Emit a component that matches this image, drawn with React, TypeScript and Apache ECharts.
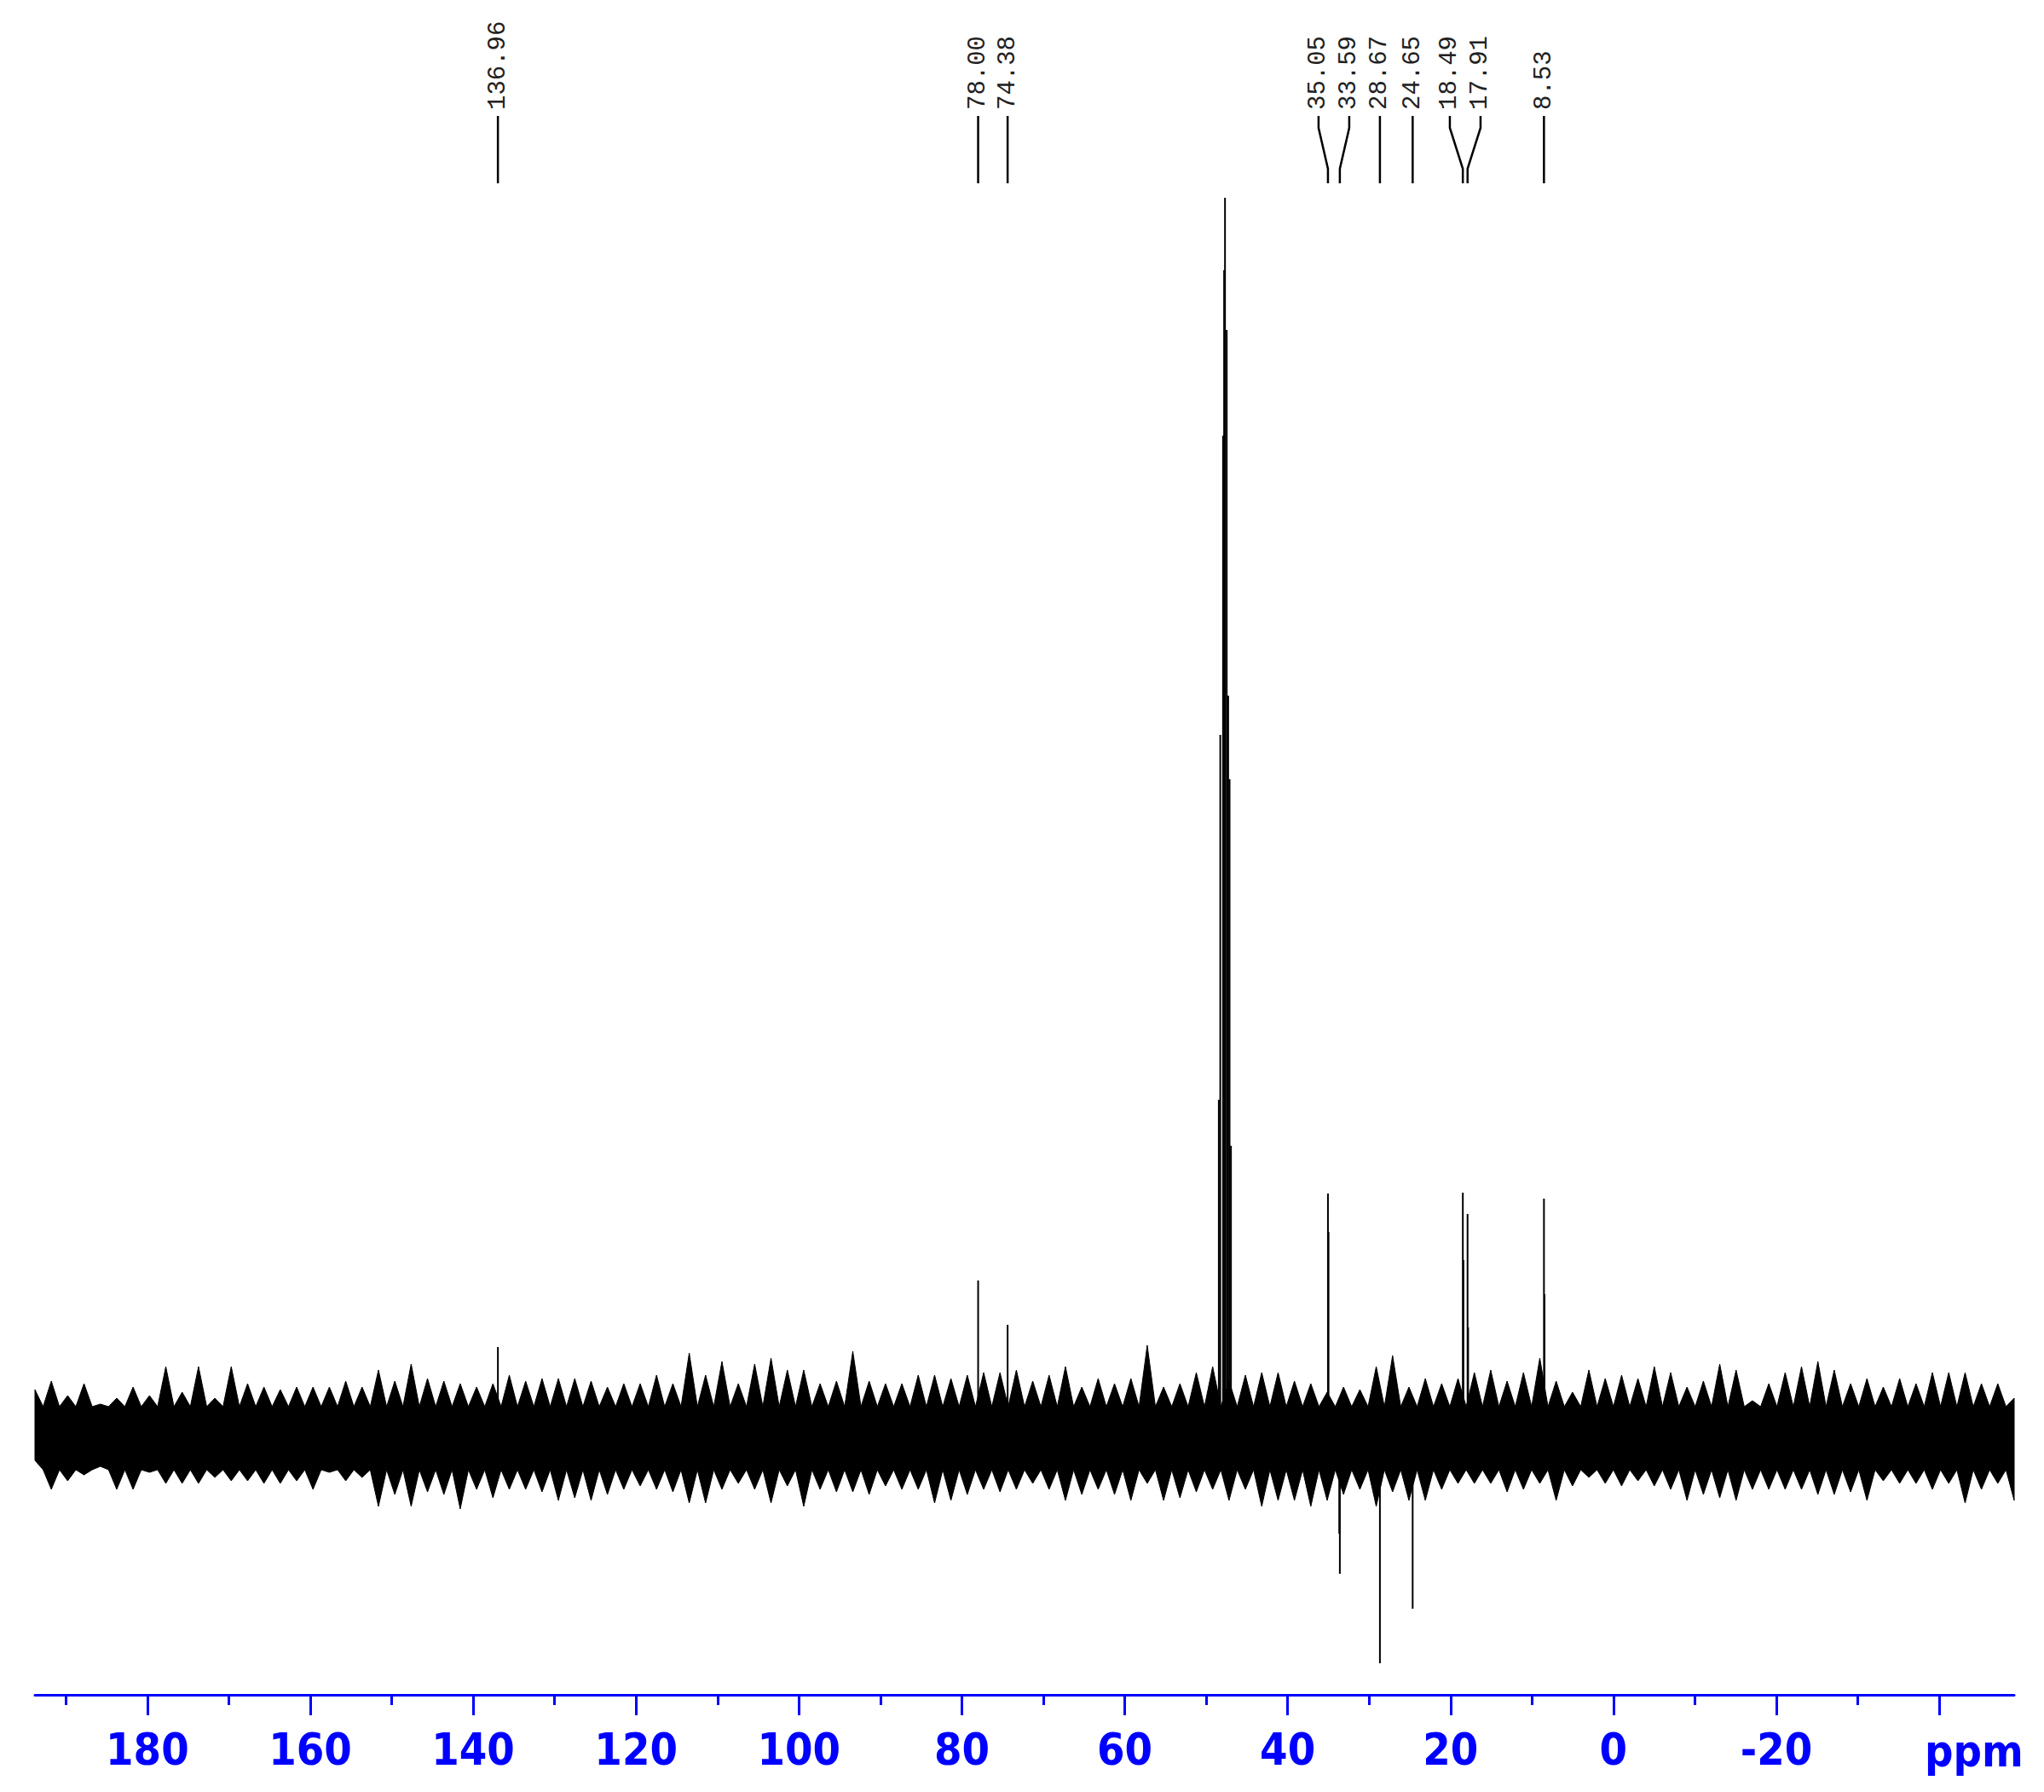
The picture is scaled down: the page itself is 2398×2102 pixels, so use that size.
import React, { useEffect, useRef } from "react";
import * as echarts from "echarts";

// ---- axis ----
const AXIS_MIN = -49.2;
const AXIS_MAX = 193.8;
const MAJOR_TICKS = [180, 160, 140, 120, 100, 80, 60, 40, 20, 0, -20, -40];
const MINOR_TICKS = [190, 170, 150, 130, 110, 90, 70, 50, 30, 10, -10, -30];
const TICK_LABELS = [180, 160, 140, 120, 100, 80, 60, 40, 20, 0, -20];
const AXIS_UNIT = "ppm";

// ---- labelled peaks (ppm, intensity) ----
const PEAK_LABELS = ["136.96", "78.00", "74.38", "35.05", "33.59", "28.67", "24.65", "18.49", "17.91", "8.53"];
const PEAK_PPM = [136.96, 78.0, 74.38, 35.05, 33.59, 28.67, 24.65, 18.49, 17.91, 8.53];
const PEAK_HEIGHT = [106, 184, 132, 286, -160, -265, -201, 287, 262, 280];

// second data point of the resolved peaks
const SHOULDER_PPM = [34.98, 33.66, 18.42, 17.84, 8.46];
const SHOULDER_HEIGHT = [241, -113, 208, 129, 168];

// solvent multiplet
const SOLVENT_PPM = [47.69, 47.8, 47.48, 47.93, 47.3, 48.27, 47.13, 48.45, 46.96];
const SOLVENT_HEIGHT = [1454, 1369, 1299, 1175, 870, 824, 772, 396, 342];

// ---- baseline noise envelope, sampled evenly from NOISE_START to NOISE_END ----
const NOISE_START = 193.8;
const NOISE_END = -49.2;
const NOISE_CORE_TOP = 36;
const NOISE_CORE_BOTTOM = -38;
const NOISE_TOP = [
  56, 66, 49, 63, 39, 46, 59, 49, 83, 53, 83, 46, 83, 63, 59, 56, 59, 59, 59, 66, 59, 79, 66, 86,
  69, 66, 63, 59, 63, 73, 66, 69, 69, 69, 66, 59, 63, 63, 73, 63, 99, 73, 89, 63, 86, 93, 79, 79, 63, 66, 101, 66, 63, 63, 73, 73, 69,
  73, 76, 76, 79, 66, 73, 83, 59, 69, 63, 69, 108, 59, 63, 76, 83, 66, 73, 76, 76, 66, 63, 53, 59, 56, 83, 96, 59, 69, 63, 69, 76,
  79, 66, 76, 93, 66, 53, 79, 69, 73, 69, 83, 76, 59, 66, 86, 79, 43, 63, 76, 83, 89, 79, 63, 69, 59, 69, 63, 76, 76, 76, 63, 63, 46,
];
const NOISE_BOTTOM = [
  -27, -61, -51, -44, -34, -61, -61, -41, -54, -54, -54, -47, -51, -51, -54, -54, -51, -61, -41, -51, -47, -81, -67, -81,
  -64, -67, -84, -61, -71, -61, -61, -64, -74, -71, -74, -67, -61, -57, -61, -64, -77, -77, -61, -54, -61, -77, -57, -81, -61, -64, -64, -67, -57, -61, -61, -77, -74,
  -67, -61, -64, -61, -54, -61, -74, -67, -61, -67, -74, -54, -74, -71, -64, -61, -74, -61, -81, -74, -74, -81, -74, -67, -61, -81, -64, -74, -74, -61, -54, -54,
  -54, -64, -61, -54, -74, -57, -47, -54, -57, -51, -57, -61, -74, -67, -71, -74, -61, -61, -61, -61, -67, -67, -64, -74, -51, -54, -54, -61, -54, -77, -61, -54, -74,
];

const Y_MIN = -302;
const Y_MAX = 1500;

const BLUE = "#0000ff";
const AXIS_FONT = "'Liberation Sans Narrow', 'DejaVu Sans Condensed', 'Liberation Sans', Arial, sans-serif";
const PEAK_FONT = "'Liberation Mono', 'DejaVu Sans Mono', monospace";

export default function App() {
  const ref = useRef<HTMLDivElement>(null);

  useEffect(() => {
    document.body.style.margin = "0";
    if (!ref.current) return;
    const chart = echarts.init(ref.current, undefined, { renderer: "svg" });

    const peakData: number[][] = [];
    PEAK_PPM.forEach((p, i) => peakData.push([p, PEAK_HEIGHT[i]]));
    SHOULDER_PPM.forEach((p, i) => peakData.push([p, SHOULDER_HEIGHT[i]]));
    SOLVENT_PPM.forEach((p, i) => peakData.push([p, SOLVENT_HEIGHT[i]]));

    const option: any = {
      animation: false,
      backgroundColor: "#ffffff",
      grid: { left: 41, right: 35, top: 186, bottom: 114 },
      xAxis: [
        {
          type: "value",
          min: AXIS_MIN,
          max: AXIS_MAX,
          inverse: true,
          position: "bottom",
          axisLine: { show: true, onZero: false, lineStyle: { color: BLUE, width: 3 } },
          axisTick: { show: true, length: 24, customValues: MAJOR_TICKS, lineStyle: { color: BLUE, width: 3 } },
          axisLabel: {
            show: true,
            customValues: TICK_LABELS,
            formatter: (v: number) => String(v),
            color: BLUE,
            fontSize: 52,
            fontWeight: "bold",
            fontFamily: AXIS_FONT,
            margin: 38,
          },
          splitLine: { show: false },
        },
        {
          type: "value",
          min: AXIS_MIN,
          max: AXIS_MAX,
          inverse: true,
          position: "bottom",
          axisLine: { show: false, onZero: false },
          axisTick: { show: true, length: 12, customValues: MINOR_TICKS, lineStyle: { color: BLUE, width: 3 } },
          axisLabel: { show: false },
          splitLine: { show: false },
        },
      ],
      yAxis: { type: "value", min: Y_MIN, max: Y_MAX, show: false, splitLine: { show: false } },
      series: [
        {
          type: "custom",
          name: "noise",
          xAxisIndex: 0,
          yAxisIndex: 0,
          data: [[NOISE_START, 0]],
          renderItem: (_params: any, api: any) => {
            const n = NOISE_TOP.length;
            const step = (NOISE_START - NOISE_END) / (n - 1);
            const pts: number[][] = [];
            for (let i = 0; i < n; i++) {
              const ppm = NOISE_START - i * step;
              pts.push(api.coord([ppm, NOISE_TOP[i]]));
              if (i < n - 1) pts.push(api.coord([ppm - step / 2, NOISE_CORE_TOP]));
            }
            for (let i = n - 1; i >= 0; i--) {
              const ppm = NOISE_START - i * step;
              pts.push(api.coord([ppm, NOISE_BOTTOM[i]]));
              if (i > 0) pts.push(api.coord([ppm + step / 2, NOISE_CORE_BOTTOM]));
            }
            return {
              type: "polygon",
              shape: { points: pts },
              style: { fill: "#000", stroke: "#000", lineWidth: 1 },
            };
          },
          silent: true,
        },
        {
          type: "custom",
          name: "peaks",
          xAxisIndex: 0,
          yAxisIndex: 0,
          data: peakData,
          renderItem: (_params: any, api: any) => {
            const ppm = api.value(0);
            const h = api.value(1);
            const p0 = api.coord([ppm, 0]);
            const p1 = api.coord([ppm, h]);
            return {
              type: "line",
              shape: { x1: p0[0], y1: p0[1], x2: p1[0], y2: p1[1] },
              style: { stroke: "#000", lineWidth: 2 },
            };
          },
          silent: true,
        },
      ],
    };

    chart.setOption(option);

    // peak labels on top, spread when too close
    const items = PEAK_PPM.map((p, i) => ({
      label: PEAK_LABELS[i],
      px: chart.convertToPixel({ xAxisIndex: 0 }, p) as number,
      lx: 0,
    }));
    items.sort((a, b) => a.px - b.px);
    let g: typeof items = [];
    const groups: (typeof items)[] = [];
    items.forEach((it) => {
      if (g.length && it.px - g[g.length - 1].px >= 30) {
        groups.push(g);
        g = [];
      }
      g.push(it);
    });
    if (g.length) groups.push(g);
    groups.forEach((grp) => {
      const mean = grp.reduce((s, it) => s + it.px, 0) / grp.length;
      grp.forEach((it, k) => {
        it.lx = grp.length === 1 ? it.px : mean + (k - (grp.length - 1) / 2) * 36;
      });
    });

    const graphic: any[] = [];
    items.forEach((it) => {
      graphic.push({
        type: "polyline",
        shape: { points: [[it.lx, 136], [it.lx, 150], [it.px, 198], [it.px, 215]] },
        style: { stroke: "#000", lineWidth: 2.5, fill: null },
        silent: true,
      });
      graphic.push({
        type: "text",
        x: it.lx,
        y: 129,
        rotation: Math.PI / 2,
        style: {
          text: it.label,
          fill: "#222",
          font: `29px ${PEAK_FONT}`,
          align: "left",
          verticalAlign: "middle",
        },
        silent: true,
      });
    });
    graphic.push({
      type: "text",
      x: 2258,
      y: 2028,
      style: {
        text: AXIS_UNIT,
        fill: BLUE,
        font: `bold 52px ${AXIS_FONT}`,
        align: "left",
        verticalAlign: "top",
      },
      silent: true,
    });
    chart.setOption({ graphic });

    return () => chart.dispose();
  }, []);

  return <div ref={ref} style={{ width: 2398, height: 2102 }} />;
}
